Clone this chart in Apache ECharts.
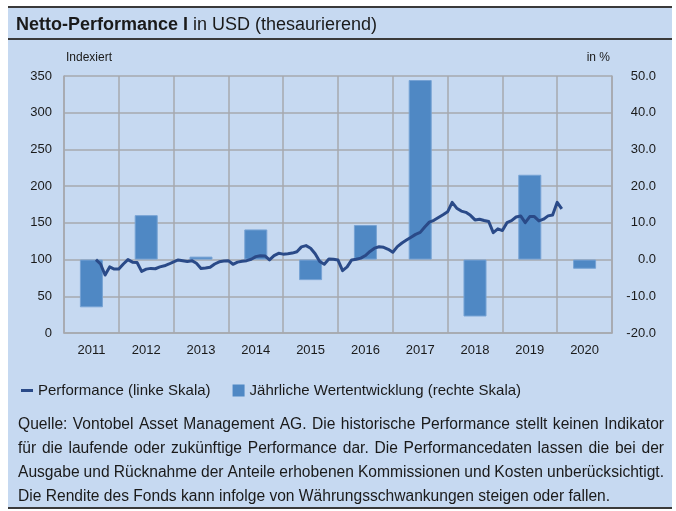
<!DOCTYPE html>
<html><head><meta charset="utf-8">
<script src="https://cdn.jsdelivr.net/npm/echarts@6/dist/echarts.min.js"></script>
<style>html,body{margin:0;padding:0;background:#fff}#c{width:676px;height:511px}</style>
</head><body><div id="c"></div>
<script>
// ---- data ----
const years = ['2011','2012','2013','2014','2015','2016','2017','2018','2019','2020'];
const annualReturns = [-13.0, 12.1, 0.8, 8.2, -5.6, 9.4, 48.9, -15.5, 23.1, -2.5];
const perfStart = {year: 2011, month: 7}; // monthly month-end values from Jul 2011
const perfValues = [
  100, 94, 79, 90, 87, 87,
  94, 100, 96.5, 96, 84, 87, 88, 87.5, 90, 91.5, 94, 97,
  99.5, 98.5, 97.5, 98.5, 95, 88, 88.5, 89.5, 94, 97, 98, 98.5,
  93.6, 96.5, 97.8, 98.5, 100.5, 104, 105.3, 105, 99.5, 105.3, 108.5, 107.4,
  108, 108.8, 110.6, 117.3, 119, 115.5, 108, 97.5, 93.7, 100.8, 100.4, 99.3,
  85, 90, 99.5, 100.5, 102, 105.5, 111, 115.5, 117.4, 116.7, 114, 110,
  117.6, 122.5, 126.5, 130.4, 134.3, 137, 144.4, 151, 153.5, 157.3, 161, 165,
  178, 170, 166, 164.3, 160.2, 154, 155, 153.2, 151.8, 136.7, 141.8, 139.5,
  150.3, 153, 158, 159.4, 150.3, 158.5, 158.5, 152.6, 155, 159.5, 160.8, 178,
  169
];
const leftTicks = [0, 50, 100, 150, 200, 250, 300, 350];
const rightTicks = [-20, -10, 0, 10, 20, 30, 40, 50];
const titleBold = 'Netto-Performance I';
const titleRest = 'in USD (thesaurierend)';
const leftAxisName = 'Indexiert';
const rightAxisName = 'in %';
const lineName = 'Performance (linke Skala)';
const barName = 'Jährliche Wertentwicklung (rechte Skala)';
const footnote = [
  'Quelle: Vontobel Asset Management AG. Die historische Performance stellt keinen Indikator',
  'für die laufende oder zukünftige Performance dar. Die Performancedaten lassen die bei der',
  'Ausgabe und Rücknahme der Anteile erhobenen Kommissionen und Kosten unberücksichtigt.',
  'Die Rendite des Fonds kann infolge von Währungsschwankungen steigen oder fallen.'
];

// ---- build ----
const FONT = '"Liberation Sans", Arial, sans-serif';
const TXT = '#1a1a1a';
const GRIDC = '#a6a9ae';
const LINEC = '#2a4a88';
const BARC = '#4f88c4';

// month-end positions in decimal years
const perfData = perfValues.map((v, i) => {
  const m = perfStart.month - 1 + i;
  const y = perfStart.year + Math.floor(m / 12);
  const mm = (m % 12) + 1;
  return [y + mm / 12, v];
});

const measureCtx = document.createElement('canvas').getContext('2d');
function justified(text, x, y, width, size, justify) {
  measureCtx.font = size + 'px ' + FONT;
  const words = text.split(' ');
  const ws = words.map(w => measureCtx.measureText(w).width);
  const total = ws.reduce((a, b) => a + b, 0);
  const gap = justify ? (width - total) / (words.length - 1) : measureCtx.measureText(' ').width;
  let cx = x;
  return words.map((w, i) => {
    const el = {type: 'text', x: cx, y: y, z: 10,
      style: {text: w, fontSize: size, fontFamily: FONT, fill: TXT, verticalAlign: 'middle', align: 'left'}};
    cx += ws[i] + gap;
    return el;
  });
}

const graphics = [
  {type: 'rect', z: -100, shape: {x: 8, y: 7, width: 664, height: 501}, style: {fill: '#c6d9f1'}},
  {type: 'rect', z: -90, shape: {x: 8, y: 6, width: 664, height: 2}, style: {fill: '#3a3a3a'}},
  {type: 'rect', z: -90, shape: {x: 8, y: 38, width: 664, height: 2}, style: {fill: '#3a3a3a'}},
  {type: 'rect', z: -90, shape: {x: 8, y: 507, width: 664, height: 2}, style: {fill: '#3a3a3a'}}
];
footnote.forEach((line, i) => {
  justified(line, 18, 425 + i * 24, 646, 15.6, i < 3).forEach(e => graphics.push(e));
});

const chart = echarts.init(document.getElementById('c'), null, {renderer: 'canvas'});
chart.setOption({
  animation: false,
  textStyle: {fontFamily: FONT},
  title: {
    left: 11, top: 11,
    text: '{b|' + titleBold + '} {r|' + titleRest + '}',
    textStyle: {fontWeight: 'normal', rich: {
      b: {fontSize: 18, fontWeight: 'bold', fontFamily: FONT, color: TXT},
      r: {fontSize: 18, fontWeight: 'normal', fontFamily: FONT, color: TXT}
    }}
  },
  graphic: graphics,
  legend: {
    left: 16, top: 378, itemWidth: 12, itemHeight: 12, itemGap: 22,
    symbolKeepAspect: true,
    textStyle: {fontSize: 15, color: TXT, fontFamily: FONT},
    data: [
      {name: lineName, icon: 'path://M0,0 L12,0 L12,3 L0,3 Z', itemStyle: {color: LINEC}},
      {name: barName, icon: 'rect', itemStyle: {color: BARC, borderWidth: 0}}
    ]
  },
  grid: {left: 64, top: 76, width: 548, height: 257, show: false},
  xAxis: [
    {type: 'category', data: years, boundaryGap: true,
     axisLine: {show: true, lineStyle: {color: GRIDC, width: 1.5}},
     axisTick: {show: false},
     axisLabel: {color: TXT, fontSize: 13, margin: 11, fontFamily: FONT},
     splitLine: {show: true, lineStyle: {color: GRIDC, width: 1.5}}},
    {type: 'value', min: 2011, max: 2021, show: false}
  ],
  yAxis: [
    {type: 'value', position: 'left', min: leftTicks[0], max: leftTicks[leftTicks.length - 1],
     interval: leftTicks[1] - leftTicks[0],
     name: leftAxisName, nameLocation: 'end', nameGap: 12,
     nameTextStyle: {align: 'left', color: TXT, fontSize: 12, fontFamily: FONT, padding: [0, 0, 0, 2]},
     axisLine: {show: true, lineStyle: {color: GRIDC, width: 1.5}},
     axisTick: {show: false},
     axisLabel: {color: TXT, fontSize: 13, margin: 12, fontFamily: FONT},
     splitLine: {show: true, lineStyle: {color: GRIDC, width: 1.5}}},
    {type: 'value', position: 'right', min: rightTicks[0], max: rightTicks[rightTicks.length - 1],
     interval: rightTicks[1] - rightTicks[0],
     name: rightAxisName, nameLocation: 'end', nameGap: 12,
     nameTextStyle: {align: 'right', color: TXT, fontSize: 12, fontFamily: FONT, padding: [0, 2, 0, 0]},
     axisLine: {show: true, lineStyle: {color: GRIDC, width: 1.5}},
     axisTick: {show: false},
     axisLabel: {color: TXT, fontSize: 13, margin: 44, align: 'right', fontFamily: FONT,
                 formatter: v => v.toFixed(1)},
     splitLine: {show: false}}
  ],
  series: [
    {name: barName, type: 'bar', xAxisIndex: 0, yAxisIndex: 1, data: annualReturns,
     barWidth: '42%', z: 2,
     itemStyle: {color: BARC, borderColor: '#76a2d4', borderWidth: 1}},
    {name: lineName, type: 'line', xAxisIndex: 1, yAxisIndex: 0, data: perfData,
     symbol: 'none', showSymbol: false, z: 3,
     lineStyle: {color: LINEC, width: 3, join: 'round'},
     itemStyle: {color: LINEC}}
  ]
});
</script></body></html>
